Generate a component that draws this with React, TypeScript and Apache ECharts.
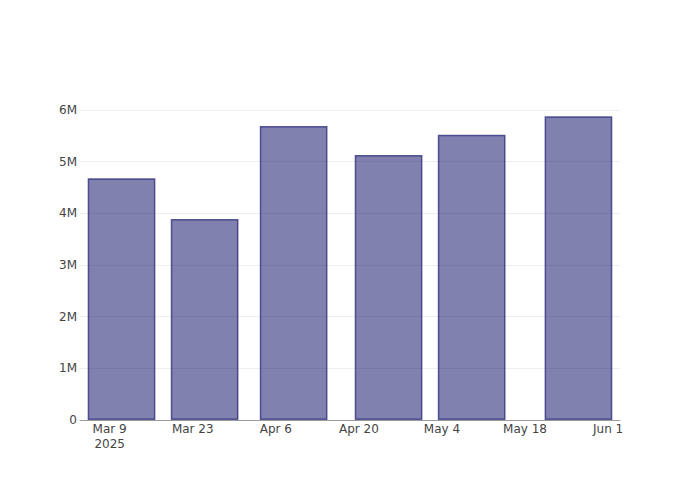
import React, { useEffect, useRef } from "react";
import * as echarts from "echarts";

const barDates = ["2025-03-11", "2025-03-25", "2025-04-09", "2025-04-25", "2025-05-09", "2025-05-27"];
const barValues = [4680000, 3890000, 5690000, 5130000, 5520000, 5880000];
const xTickDates = ["2025-03-09", "2025-03-23", "2025-04-06", "2025-04-20", "2025-05-04", "2025-05-18", "2025-06-01"];
const xRange = ["2025-03-04", "2025-06-03"];
const yMax = 6194000;

const MONTHS = ["Jan", "Feb", "Mar", "Apr", "May", "Jun", "Jul", "Aug", "Sep", "Oct", "Nov", "Dec"];
const ts = (s: string) => {
  const [y, m, d] = s.split("-").map(Number);
  return Date.UTC(y, m - 1, d);
};

export default function App() {
  const ref = useRef<HTMLDivElement>(null);
  useEffect(() => {
    if (!ref.current) return;
    const chart = echarts.init(ref.current, null, { renderer: "svg" });
    const firstTick = ts(xTickDates[0]);
    chart.setOption({
      animation: false,
      backgroundColor: "#ffffff",
      textStyle: { fontFamily: "DejaVu Sans" },
      grid: { left: 80, right: 80, top: 100, bottom: 80, containLabel: false },
      xAxis: {
        type: "value",
        min: ts(xRange[0]),
        max: ts(xRange[1]),
        axisLine: { show: true, onZero: false, lineStyle: { color: "#9a9a9a", width: 1 } },
        axisTick: { show: false },
        splitLine: { show: false },
        axisLabel: {
          customValues: xTickDates.map(ts),
          color: "#444",
          fontSize: 12,
          fontFamily: "DejaVu Sans",
          lineHeight: 15,
          margin: 1,
          hideOverlap: false,
          formatter: (v: number) => {
            const d = new Date(v);
            const s = `${MONTHS[d.getUTCMonth()]} ${d.getUTCDate()}`;
            return Math.abs(v - firstTick) < 1000 ? `${s}\n${d.getUTCFullYear()}` : s;
          },
        },
      },
      yAxis: {
        type: "value",
        min: 0,
        max: yMax,
        interval: 1000000,
        axisLine: { show: false },
        axisTick: { show: false },
        splitLine: { show: true, showMaxLine: false, lineStyle: { color: "#eeeeee", width: 1 } },
        axisLabel: {
          showMaxLabel: false,
          color: "#444",
          fontSize: 12,
          fontFamily: "DejaVu Sans",
          margin: 3,
          formatter: (v: number) => (v === 0 ? "0" : `${v / 1000000}M`),
        },
      },
      series: [
        {
          type: "bar",
          barWidth: "81.5%",
          data: barDates.map((d, i) => [ts(d), barValues[i]]),
          itemStyle: {
            color: "rgba(25,25,112,0.55)",
            borderColor: "rgba(40,40,120,0.75)",
            borderWidth: 1.5,
          },
        },
      ],
    });
    return () => chart.dispose();
  }, []);
  return <div ref={ref} style={{ position: "fixed", left: 0, top: 0, width: 700, height: 500 }} />;
}
